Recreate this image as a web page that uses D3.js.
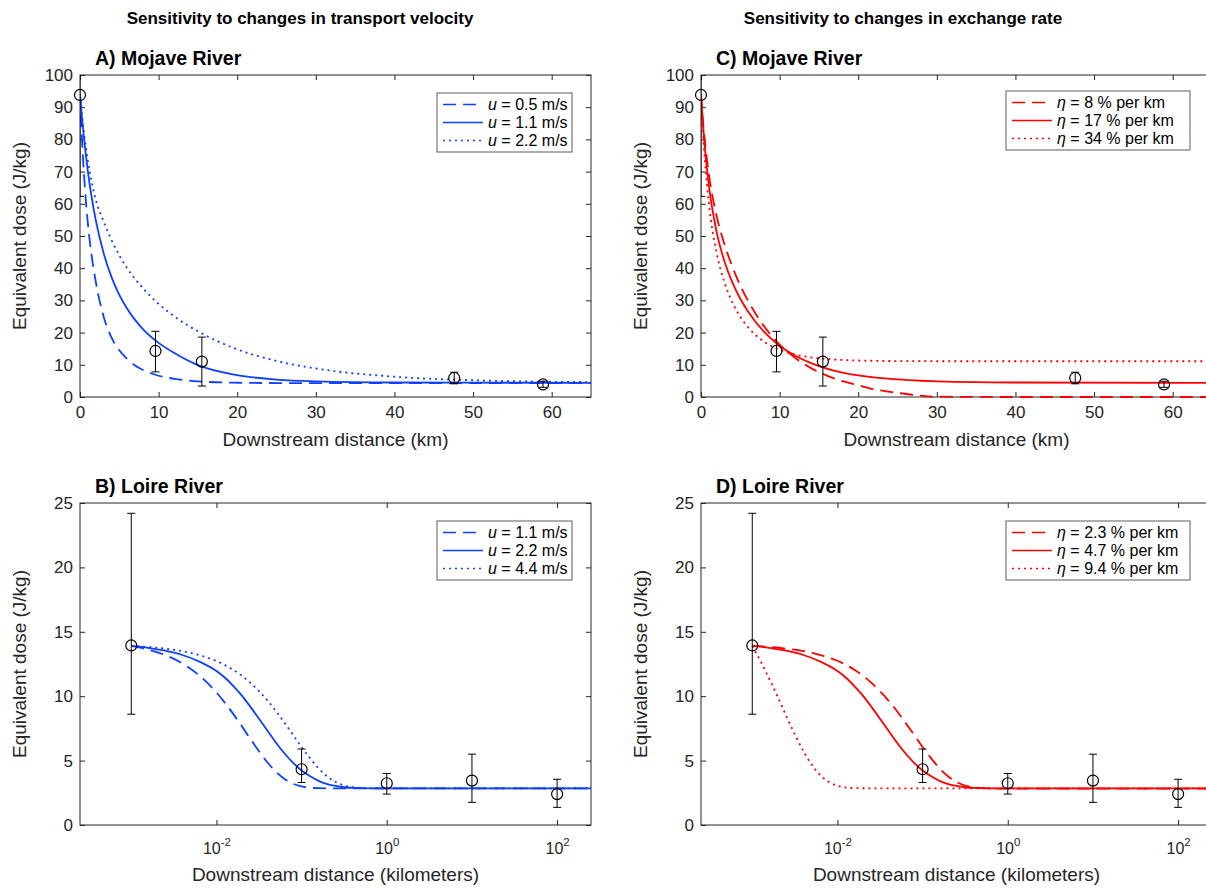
<!DOCTYPE html>
<html><head><meta charset="utf-8">
<script src="https://cdn.jsdelivr.net/npm/d3@7"></script>
<style>
body{margin:0;background:#fff}
svg{display:block}
text{font-family:"Liberation Sans", Arial, Helvetica, sans-serif;}
</style>
</head><body>
<svg id="c" width="1206" height="888"></svg>
<script>
// ---------------- DATA ----------------
// Observations (Mojave River)
const mojaveDistKm   = [0, 9.6, 15.5, 47.6, 58.9];
const mojaveDose     = [93.8, 14.3, 11.0, 5.9, 3.9];
const mojaveDoseLow  = [62.3, 7.8, 3.4, 4.1, 3.0];
const mojaveDoseHigh = [125.3, 20.4, 18.6, 7.7, 4.9];

// Observations (Loire River)
const loireDistKm   = [0.001, 0.1, 1, 10, 100];
const loireDose     = [13.94, 4.33, 3.24, 3.45, 2.4];
const loireDoseLow  = [8.6, 3.3, 2.4, 1.76, 1.37];
const loireDoseHigh = [24.2, 5.9, 4.0, 5.5, 3.55];

// Model curves, panel A (transport velocity, Mojave)
const velMojaveKm   = [0, 0.25, 0.5, 1, 1.5, 2, 3, 4, 5, 6, 7, 8, 10, 12, 15, 20, 25, 30, 40, 50, 65];
const velMojaveU05  = [94, 80.2, 69.4, 53.9, 43.5, 35.9, 25, 18.5, 14.5, 11.8, 9.8, 8.4, 6.6, 5.65, 4.85, 4.43, 4.33, 4.3, 4.3, 4.3, 4.3];
const velMojaveU11  = [94, 86.8, 80.6, 70.1, 61.8, 55.0, 44.7, 37.3, 31.7, 27.4, 23.95, 21.1, 16.8, 13.66, 9.9, 6.8, 5.4, 4.85, 4.5, 4.45, 4.4];
const velMojaveU22  = [94, 87.6, 82.1, 73.3, 66.6, 61.3, 54.5, 48.8, 44.0, 40.0, 36.7, 33.8, 28.9, 25.0, 20.4, 14.8, 11.2, 8.86, 6.3, 5.2, 4.63];

// Model curves, panel C (exchange rate, Mojave)
const exMojaveKm    = [0, 0.25, 0.5, 1, 2, 3, 4, 5, 6, 8, 10, 12, 14, 16, 18, 20, 22, 25, 28, 30, 40, 65];
const exMojaveE8    = [94, 85.7, 79.1, 69.1, 56.1, 47.3, 40.4, 34.6, 29.8, 22.05, 16.3, 12.1, 8.97, 6.64, 4.92, 3.64, 2.4, 1.3, 0.4, 0.1, 0, 0];
const exMojaveE17   = [94, 84.7, 77.2, 65.7, 51.1, 42.0, 35.5, 30.5, 26.45, 20.3, 15.9, 12.8, 10.5, 8.8, 7.6, 6.73, 6.09, 5.45, 5.05, 4.87, 4.5, 4.4];
const exMojaveE34   = [94, 82.3, 73.25, 60.2, 44.6, 35.5, 29.35, 24.9, 21.6, 17.2, 14.66, 13.17, 12.31, 11.8, 11.51, 11.34, 11.24, 11.16, 11.12, 11.11, 11.1, 11.1];

// Model curves, panels B and D (Loire)
const loireCurveKm  = [0.001, 0.00158, 0.00251, 0.00398, 0.00631, 0.01, 0.0126, 0.0158, 0.02, 0.0251, 0.0316, 0.0398, 0.0501, 0.0631, 0.0794, 0.1, 0.126, 0.158, 0.2, 0.251, 0.316, 0.398, 0.631, 1, 10, 100, 250];
const velLoireU11   = [13.9, 13.62, 13.19, 12.54, 11.6, 10.29, 9.48, 8.61, 7.64, 6.67, 5.72, 4.85, 4.12, 3.57, 3.2, 2.99, 2.89, 2.86, 2.85, 2.85, 2.85, 2.85, 2.85, 2.85, 2.85, 2.85, 2.85];
const velLoireU22   = [13.9, 13.76, 13.53, 13.2, 12.68, 11.95, 11.43, 10.79, 10.03, 9.17, 8.25, 7.31, 6.39, 5.55, 4.83, 4.23, 3.78, 3.43, 3.18, 3.03, 2.93, 2.88, 2.85, 2.85, 2.85, 2.85, 2.85];
const velLoireU44   = [13.9, 13.82, 13.69, 13.5, 13.19, 12.73, 12.41, 12.03, 11.57, 11.03, 10.39, 9.66, 8.83, 7.93, 6.99, 6.05, 5.17, 4.4, 3.77, 3.34, 3.06, 2.93, 2.86, 2.85, 2.85, 2.85, 2.85];
const exLoireE23    = [13.9, 13.82, 13.69, 13.5, 13.19, 12.75, 12.43, 12.05, 11.58, 11.03, 10.39, 9.66, 8.83, 7.93, 6.99, 6.05, 5.17, 4.4, 3.77, 3.34, 3.06, 2.93, 2.84, 2.82, 2.82, 2.82, 2.82];
const exLoireE47    = [13.9, 13.76, 13.53, 13.2, 12.68, 11.95, 11.43, 10.79, 10.03, 9.17, 8.25, 7.31, 6.39, 5.55, 4.83, 4.23, 3.78, 3.43, 3.18, 3.03, 2.93, 2.88, 2.85, 2.85, 2.85, 2.85, 2.85];
const exLoireE94Km  = [0.001, 0.00112, 0.00126, 0.00141, 0.00158, 0.00178, 0.002, 0.00251, 0.00316, 0.00398, 0.00501, 0.00631, 0.00794, 0.01, 0.0126, 0.0158, 0.0251, 0.1, 1, 10, 100, 250];
const exLoireE94    = [13.9, 13.31, 12.68, 12.02, 11.35, 10.64, 9.91, 8.45, 7.03, 5.74, 4.67, 3.86, 3.34, 3.04, 2.91, 2.86, 2.85, 2.85, 2.85, 2.85, 2.85, 2.85];

// Tick values and labels
const mojaveXTicks = [0, 10, 20, 30, 40, 50, 60];
const mojaveYTicks = [0, 10, 20, 30, 40, 50, 60, 70, 80, 90, 100];
const loireXTicks  = [0.01, 1, 100];
const loireXTickExp = ["-2", "0", "2"];
const loireYTicks  = [0, 5, 10, 15, 20, 25];

const velLegendMojave = ["0.5", "1.1", "2.2"];
const velLegendLoire  = ["1.1", "2.2", "4.4"];
const exLegendMojave  = ["8", "17", "34"];
const exLegendLoire   = ["2.3", "4.7", "9.4"];

// ---------------- DRAWING ----------------
const INK = "#262626";
const BLUE = "#0d40ff";
const RED = "#ff0000";
const STYLES = [
  {dash: "13,7", w: 1.8},
  {dash: null, w: 1.8},
  {dash: "2,4", w: 1.8}
];

const svg = d3.select("#c");

svg.append("text").attr("x", 300).attr("y", 24).attr("text-anchor", "middle")
  .attr("font-size", 17).attr("font-weight", "bold").attr("fill", "#000")
  .text("Sensitivity to changes in transport velocity");
svg.append("text").attr("x", 903).attr("y", 24).attr("text-anchor", "middle")
  .attr("font-size", 17).attr("font-weight", "bold").attr("fill", "#000")
  .text("Sensitivity to changes in exchange rate");

let clipId = 0;
function panel(cfg) {
  const {l, r, t, b} = cfg.box;
  const x = cfg.log ? d3.scaleLog().domain(cfg.xDomain).range([l, r])
                    : d3.scaleLinear().domain(cfg.xDomain).range([l, r]);
  const y = d3.scaleLinear().domain(cfg.yDomain).range([b, t]);
  const g = svg.append("g");

  const id = "clip" + (clipId++);
  g.append("clipPath").attr("id", id).append("rect")
    .attr("x", l).attr("y", t).attr("width", r - l).attr("height", b - t + 3);

  const fontTick = 17;
  const bottom = d3.axisBottom(x).tickValues(cfg.xTicks).tickSize(-5).tickPadding(9);
  const top = d3.axisTop(x).tickValues(cfg.xTicks).tickSize(-5).tickFormat("");
  const left = d3.axisLeft(y).tickValues(cfg.yTicks).tickSize(-5).tickPadding(7);
  const right = d3.axisRight(y).tickValues(cfg.yTicks).tickSize(-5).tickFormat("");
  if (cfg.log) bottom.tickFormat(() => "");
  else bottom.tickFormat(d3.format("d"));
  left.tickFormat(d3.format("d"));

  const gb = g.append("g").attr("transform", `translate(0,${b})`).call(bottom);
  const gt = g.append("g").attr("transform", `translate(0,${t})`).call(top);
  const gl = g.append("g").attr("transform", `translate(${l},0)`).call(left);
  const gr = g.append("g").attr("transform", `translate(${r},0)`).call(right);
  [gb, gt, gl, gr].forEach(a => {
    a.select(".domain").remove();
    a.selectAll("line").attr("stroke", INK).attr("stroke-width", 1);
    a.selectAll("text").attr("fill", INK).attr("font-size", fontTick)
      .attr("font-family", '"Liberation Sans", Arial, sans-serif');
  });
  if (cfg.log) {
    gb.selectAll(".tick").each(function(d, i) {
      const tx = d3.select(this).append("text").attr("fill", INK)
        .attr("y", 29).attr("text-anchor", "middle")
        .attr("font-family", '"Liberation Sans", Arial, sans-serif');
      tx.append("tspan").attr("font-size", 16).text("10");
      tx.append("tspan").attr("font-size", 11.5).attr("dy", -8).text(loireXTickExp[i]);
    });
  }
  g.append("rect").attr("x", l).attr("y", t).attr("width", r - l).attr("height", b - t)
    .attr("fill", "none").attr("stroke", INK).attr("stroke-width", 1);

  g.append("text").attr("x", l + 15).attr("y", t - 10).attr("font-size", 19.5)
    .attr("font-weight", "bold").attr("fill", "#000").text(cfg.title);
  g.append("text").attr("x", (l + r) / 2).attr("y", cfg.log ? b + 56 : b + 49)
    .attr("text-anchor", "middle").attr("font-size", 19).attr("fill", INK).text(cfg.xlabel);
  g.append("text").attr("transform", `translate(${l - 54},${(t + b) / 2}) rotate(-90)`)
    .attr("text-anchor", "middle").attr("font-size", 19).attr("fill", INK)
    .text("Equivalent dose (J/kg)");

  const line = d3.line().x(d => x(d[0])).y(d => y(d[1])).curve(d3.curveMonotoneX);
  const cg = g.append("g").attr("clip-path", `url(#${id})`);
  cfg.curves.forEach((c, i) => {
    const pts = c.x.map((v, k) => [v, c.y[k]]);
    cg.append("path").attr("d", line(pts)).attr("fill", "none")
      .attr("stroke", cfg.color).attr("stroke-width", STYLES[i].w)
      .attr("stroke-dasharray", STYLES[i].dash);
  });

  const eg = g.append("g").attr("clip-path", `url(#${id})`);
  cfg.obs.x.forEach((v, k) => {
    const px = x(v);
    eg.append("line").attr("x1", px).attr("x2", px)
      .attr("y1", y(cfg.obs.lo[k])).attr("y2", y(cfg.obs.hi[k]))
      .attr("stroke", "#000").attr("stroke-width", 1);
    [cfg.obs.lo[k], cfg.obs.hi[k]].forEach(e => {
      eg.append("line").attr("x1", px - 4).attr("x2", px + 4)
        .attr("y1", y(e)).attr("y2", y(e)).attr("stroke", "#000").attr("stroke-width", 1);
    });
  });
  g.selectAll("circle.obs").data(cfg.obs.x).enter().append("circle")
    .attr("cx", d => x(d)).attr("cy", (d, k) => y(cfg.obs.y[k])).attr("r", 5.5)
    .attr("fill", "none").attr("stroke", "#000").attr("stroke-width", 1.2);

  const L = cfg.legend;
  const lg = g.append("g");
  lg.append("rect").attr("x", L.x0).attr("y", t + L.dy).attr("width", L.x1 - L.x0).attr("height", 59)
    .attr("fill", "#fff").attr("stroke", "#777").attr("stroke-width", 1.2);
  L.labels.forEach((lab, i) => {
    const yy = t + L.dy + 11.5 + i * 18;
    lg.append("line").attr("x1", L.x0 + 6).attr("x2", L.x0 + 46).attr("y1", yy).attr("y2", yy)
      .attr("stroke", cfg.color).attr("stroke-width", STYLES[i].w - 0.3)
      .attr("stroke-dasharray", STYLES[i].dash);
    const tx = lg.append("text").attr("x", L.x0 + 51).attr("y", yy + 5.5)
      .attr("font-size", 16).attr("fill", "#000");
    tx.append("tspan").attr("font-style", "italic").text(L.sym);
    tx.append("tspan").text(" = " + lab + L.unit);
  });
}

const boxA = {l: 80, r: 591, t: 75, b: 397};
const boxC = {l: 701, r: 1212, t: 75, b: 397};
const boxB = {l: 80, r: 591, t: 503, b: 825};
const boxD = {l: 701, r: 1212, t: 503, b: 825};

panel({
  box: boxA, log: false, xDomain: [0, 65], yDomain: [0, 100],
  xTicks: mojaveXTicks, yTicks: mojaveYTicks, color: BLUE,
  title: "A) Mojave River", xlabel: "Downstream distance (km)",
  curves: [{x: velMojaveKm, y: velMojaveU05}, {x: velMojaveKm, y: velMojaveU11}, {x: velMojaveKm, y: velMojaveU22}],
  obs: {x: mojaveDistKm, y: mojaveDose, lo: mojaveDoseLow, hi: mojaveDoseHigh},
  legend: {x0: 437, x1: 572, dy: 18, sym: "u", unit: " m/s", labels: velLegendMojave}
});
panel({
  box: boxC, log: false, xDomain: [0, 65], yDomain: [0, 100],
  xTicks: mojaveXTicks, yTicks: mojaveYTicks, color: RED,
  title: "C) Mojave River", xlabel: "Downstream distance (km)",
  curves: [{x: exMojaveKm, y: exMojaveE8}, {x: exMojaveKm, y: exMojaveE17}, {x: exMojaveKm, y: exMojaveE34}],
  obs: {x: mojaveDistKm, y: mojaveDose, lo: mojaveDoseLow, hi: mojaveDoseHigh},
  legend: {x0: 1006, x1: 1190, dy: 16, sym: "η", unit: " % per km", labels: exLegendMojave}
});
panel({
  box: boxB, log: true, xDomain: [0.00025, 250], yDomain: [0, 25],
  xTicks: loireXTicks, yTicks: loireYTicks, color: BLUE,
  title: "B) Loire River", xlabel: "Downstream distance (kilometers)",
  curves: [{x: loireCurveKm, y: velLoireU11}, {x: loireCurveKm, y: velLoireU22}, {x: loireCurveKm, y: velLoireU44}],
  obs: {x: loireDistKm, y: loireDose, lo: loireDoseLow, hi: loireDoseHigh},
  legend: {x0: 437, x1: 572, dy: 18, sym: "u", unit: " m/s", labels: velLegendLoire}
});
panel({
  box: boxD, log: true, xDomain: [0.00025, 250], yDomain: [0, 25],
  xTicks: loireXTicks, yTicks: loireYTicks, color: RED,
  title: "D) Loire River", xlabel: "Downstream distance (kilometers)",
  curves: [{x: loireCurveKm, y: exLoireE23}, {x: loireCurveKm, y: exLoireE47}, {x: exLoireE94Km, y: exLoireE94}],
  obs: {x: loireDistKm, y: loireDose, lo: loireDoseLow, hi: loireDoseHigh},
  legend: {x0: 1006, x1: 1190, dy: 18, sym: "η", unit: " % per km", labels: exLegendLoire}
});
</script>
</body></html>
